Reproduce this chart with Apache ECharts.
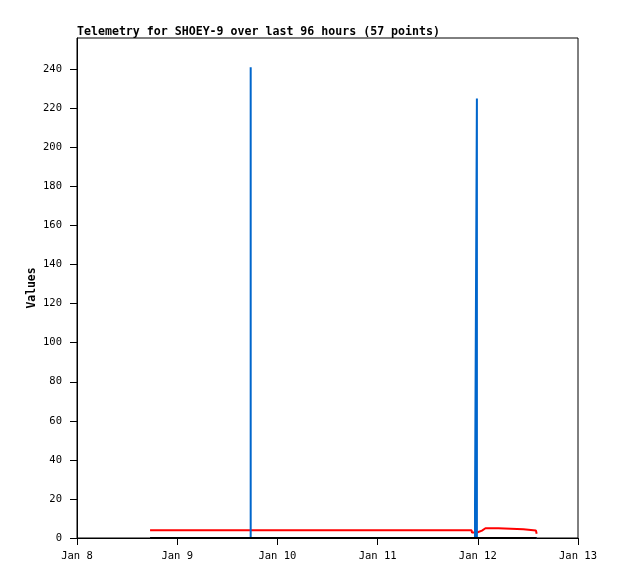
<!DOCTYPE html>
<html>
<head>
<meta charset="utf-8">
<script src="https://cdn.jsdelivr.net/npm/echarts@6/dist/echarts.min.js"></script>
<style>html,body{margin:0;padding:0;background:#fff;}#c{width:618px;height:579px;}</style>
</head>
<body>
<div id="c"></div>
<script>
// Times in ISO (UTC)
const titleText = 'Telemetry for SHOEY-9 over last 96 hours (57 points)';
const xTickLabels = ['Jan 8', 'Jan 9', 'Jan 10', 'Jan 11', 'Jan 12', 'Jan 13'];
const yTickValues = [0, 20, 40, 60, 80, 100, 120, 140, 160, 180, 200, 220, 240];

const redTimes = ['2024-01-08T17:30', '2024-01-09T17:30', '2024-01-09T17:42', '2024-01-09T17:54',
  '2024-01-11T22:30', '2024-01-11T22:36', '2024-01-11T23:50', '2024-01-12T00:03', '2024-01-12T01:00',
  '2024-01-12T01:50', '2024-01-12T04:55', '2024-01-12T05:05', '2024-01-12T10:55', '2024-01-12T11:05',
  '2024-01-12T13:55', '2024-01-12T14:06'];
const redValues = [4, 4, 5, 4, 4, 2.8, 2.8, 3.8, 3.8, 5, 5, 4.5, 4.5, 3.8, 3.8, 2.2];

const blueTimes = ['2024-01-08T17:30', '2024-01-09T17:36', '2024-01-09T17:36', '2024-01-09T17:36',
  '2024-01-11T23:20', '2024-01-11T23:20', '2024-01-11T23:47', '2024-01-11T23:47', '2024-01-11T23:47',
  '2024-01-12T14:06'];
const blueValues = [0, 0, 241, 0, 0, 17, 17, 225, 0, 0];

const blackTimes = ['2024-01-08T17:30', '2024-01-12T14:06'];
const blackValues = [0, 0];

function toMs(s) { return Date.parse(s + ':00Z'); }
function pairs(ts, vs) { return ts.map((t, i) => [toMs(t), vs[i]]); }

const DAY = 86400000;
const xMin = Date.UTC(2024, 0, 8);
const xMax = Date.UTC(2024, 0, 13);
const FONT = 'DejaVu Sans Mono';

const chart = echarts.init(document.getElementById('c'), null, {renderer: 'canvas'});
chart.setOption({
  animation: false,
  backgroundColor: '#fff',
  title: {
    text: titleText, left: 72, top: 21,
    textStyle: {fontFamily: FONT, fontSize: 11.6, fontWeight: 'bold', color: '#000'}
  },
  grid: {left: 77, right: 40, top: 38, bottom: 41, show: true, borderColor: '#000', borderWidth: 1, backgroundColor: 'transparent'},
  xAxis: {
    type: 'value', min: xMin, max: xMax, interval: DAY,
    axisLine: {show: true, lineStyle: {color: '#000', width: 1}},
    axisTick: {show: true, length: 7, inside: false, lineStyle: {color: '#000', width: 1}},
    splitLine: {show: false},
    axisLabel: {
      margin: 13, color: '#000', fontFamily: FONT, fontSize: 10.5,
      formatter: v => xTickLabels[Math.round((v - xMin) / DAY)] || ''
    }
  },
  yAxis: {
    type: 'value', min: 0, max: 256,
    name: 'Values', nameLocation: 'middle', nameGap: 39, nameMoveOverlap: false,
    nameTextStyle: {fontFamily: FONT, fontSize: 11.4, fontWeight: 'bold', color: '#000'},
    axisLine: {show: true, lineStyle: {color: '#000', width: 1}},
    axisTick: {show: true, length: 7, inside: false, customValues: yTickValues, lineStyle: {color: '#000', width: 1}},
    splitLine: {show: false},
    axisLabel: {margin: 15, color: '#000', fontFamily: FONT, fontSize: 10.5, customValues: yTickValues}
  },
  series: [
    {type: 'line', name: 'red', data: pairs(redTimes, redValues), showSymbol: false, symbol: 'none',
     lineStyle: {color: '#ff0000', width: 2}, z: 2},
    {type: 'line', name: 'blue', data: pairs(blueTimes, blueValues), showSymbol: false, symbol: 'none',
     lineStyle: {color: '#0066cc', width: 2}, z: 3},
    {type: 'line', name: 'black', data: pairs(blackTimes, blackValues), showSymbol: false, symbol: 'none',
     lineStyle: {color: '#000000', width: 2}, z: 4}
  ]
});
</script>
</body>
</html>
